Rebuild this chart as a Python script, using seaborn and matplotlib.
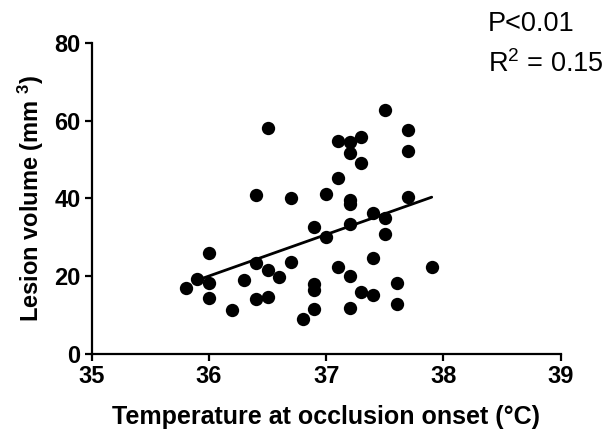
import matplotlib
matplotlib.use("Agg")
import matplotlib.pyplot as plt
import seaborn as sns
import pandas as pd

# Data
temperature = [36.5, 37.1, 37.2, 37.2, 37.3, 37.3, 37.1, 37.5, 37.7, 37.7,
               36.4, 36.7, 37.0, 37.2, 37.2, 37.7, 37.4, 37.5, 37.2, 36.9,
               37.0, 37.5, 36.0, 37.4, 36.4, 36.7, 37.1, 37.9, 36.5, 36.6,
               37.2, 35.9, 36.3, 36.0, 37.6, 36.9, 35.8, 36.9, 37.3, 37.4,
               36.0, 36.5, 36.4, 36.2, 37.6, 36.9, 37.2, 36.8]
lesion_volume = [58.2, 54.8, 54.6, 51.7, 55.8, 49.2, 45.3, 62.7, 57.6, 52.2,
                 40.8, 40.2, 41.1, 39.6, 38.6, 40.4, 36.2, 35.0, 33.3, 32.7,
                 30.1, 30.8, 25.9, 24.6, 23.5, 23.6, 22.4, 22.4, 21.6, 19.9,
                 20.1, 19.3, 18.9, 18.2, 18.2, 17.9, 17.0, 16.4, 16.0, 15.2,
                 14.5, 14.7, 14.1, 11.3, 12.8, 11.5, 11.7, 9.0]

fit_x = [35.95, 37.9]
fit_y = [19.5, 40.3]

x_ticks = [35, 36, 37, 38, 39]
y_ticks = [0, 20, 40, 60, 80]

sns.set_style("ticks")
plt.rcParams['font.family'] = ['Liberation Sans', 'DejaVu Sans']
plt.rcParams['mathtext.fontset'] = 'custom'
plt.rcParams['mathtext.rm'] = 'Liberation Sans'
plt.rcParams['mathtext.bf'] = 'Liberation Sans:bold'
plt.rcParams['mathtext.it'] = 'Liberation Sans:italic'
plt.rcParams['text.color'] = 'black'
plt.rcParams['axes.labelcolor'] = 'black'
plt.rcParams['xtick.color'] = 'black'
plt.rcParams['ytick.color'] = 'black'

df = pd.DataFrame({"temp": temperature, "vol": lesion_volume})
fit = pd.DataFrame({"x": fit_x, "y": fit_y})

fig = plt.figure(figsize=(6.16, 4.46), dpi=100)
ax = fig.add_axes([0.1489, 0.2063, 0.7613, 0.698])

sns.lineplot(data=fit, x="x", y="y", ax=ax, color="black", linewidth=2.0, zorder=2)
sns.scatterplot(data=df, x="temp", y="vol", ax=ax, color="black", s=92,
                edgecolor="black", linewidth=0, zorder=3, clip_on=False)

ax.set_xlim(35, 39)
ax.set_ylim(0, 80)
ax.set_xticks(x_ticks)
ax.set_yticks(y_ticks)
ax.set_xticklabels([str(t) for t in x_ticks], fontsize=17, fontweight="bold", color="black")
ax.set_yticklabels([str(t) for t in y_ticks], fontsize=17, fontweight="bold", color="black")

for side in ["top", "right"]:
    ax.spines[side].set_visible(False)
for side in ["left", "bottom"]:
    ax.spines[side].set_linewidth(1.6)
    ax.spines[side].set_color("black")
ax.tick_params(axis="both", direction="out", length=5, width=1.6, color="black", pad=3)

ax.set_xlabel("Temperature at occlusion onset (°C)", fontsize=18, fontweight="bold",
              labelpad=12, color="black")
ax.set_ylabel(r"Lesion volume (mm $^{\mathbf{3}}$)", fontsize=17, fontweight="bold",
              labelpad=6, color="black")

fig.text(0.792, 0.93, "P<0.01", fontsize=19.5, ha="left", va="baseline", color="black")
fig.text(0.792, 0.838, r"R$^2$ = 0.15", fontsize=19.5, ha="left", va="baseline", color="black")

fig.savefig("out.png", dpi=100)
